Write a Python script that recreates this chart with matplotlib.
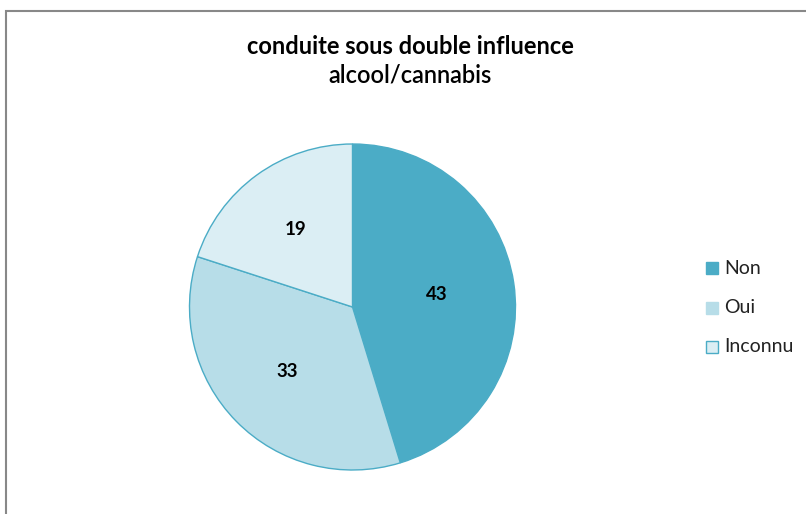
import numpy as np
import matplotlib.pyplot as plt
from matplotlib.patches import Rectangle

# --- Data ---
categories = ["Non", "Oui", "Inconnu"]
values = [43, 33, 19]
colors = ["#4BACC6", "#B7DDE8", "#DBEEF4"]
title_lines = ["conduite sous double influence", "alcool/cannabis"]

W, H = 806, 514
plt.rcParams["font.family"] = ["Lato", "DejaVu Sans"]

fig = plt.figure(figsize=(W / 100, H / 100), dpi=100)

# chart frame (runs off the right and bottom edges)
fig.patches.append(Rectangle((6 / W, -0.1), 1.2, (H - 11) / H + 0.1,
                             transform=fig.transFigure, fill=False,
                             edgecolor="#888888", linewidth=1.5))

cx, cy, r = 352.5, 307, 163
ax = fig.add_axes([(cx - r) / W, (H - cy - r) / H, 2 * r / W, 2 * r / H])
wedges, texts = ax.pie(
    values, colors=colors, startangle=90, counterclock=False,
    wedgeprops=dict(edgecolor="#4BACC6", linewidth=1))
ax.set_xlim(-1, 1)
ax.set_ylim(-1, 1)
ax.axis("off")

# value labels inside the slices
label_dist = [0.52, 0.56, 0.59]
for w, v, d in zip(wedges, values, label_dist):
    mid = np.deg2rad((w.theta1 + w.theta2) / 2)
    ax.text(d * np.cos(mid), d * np.sin(mid), str(v), ha="center",
            va="center", fontsize=13.5, fontweight="bold", color="black")

fig.text(410 / W, 1 - 46 / H, title_lines[0], ha="center", va="center",
         fontsize=17, fontweight="bold")
fig.text(410 / W, 1 - 75 / H, title_lines[1], ha="center", va="center",
         fontsize=17, fontweight="semibold")

# legend
for i, (cat, col) in enumerate(zip(categories, colors)):
    y = 1 - (268 + i * 39.5) / H
    fig.patches.append(Rectangle((706 / W, y - 6 / H), 12 / W, 12 / H,
                                 transform=fig.transFigure, facecolor=col,
                                 edgecolor="#4BACC6" if i == 2 else col,
                                 linewidth=1))
    fig.text(724 / W, y, cat, ha="left", va="center", fontsize=14,
             color="#222222")

fig.savefig("out.png", dpi=100)
